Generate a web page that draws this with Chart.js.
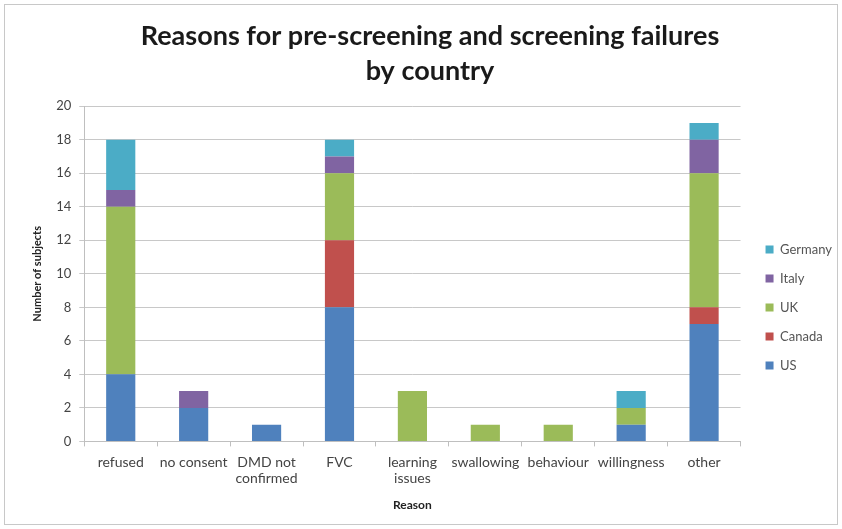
<!DOCTYPE html>
<html lang="en">
<head>
  <meta charset="UTF-8">
  <title>Reasons for pre-screening and screening failures</title>
  <script src="https://cdn.jsdelivr.net/npm/chart.js"></script>
  <style>
    body {
      margin: 0;
      background: #ffffff;
      font-family: Lato, "Open Sans", sans-serif;
    }
    .frame {
      position: absolute;
      left: 4px;
      top: 4px;
      width: 832px;
      height: 519px;
      border: 1px solid #c8c8c8;
      background: #fff;
    }
  </style>
</head>
<body>
  <div class="frame">
    <canvas id="failChart"></canvas>
  </div>

  <script>
    // categories along x
    const reasons = ['refused', 'no consent', ['DMD not', 'confirmed'], 'FVC', ['learning', 'issues'],
      'swallowing', 'behaviour', 'willingness', 'other'];

    // values per country (stacked)
    const usVals      = [4, 2, 1, 8, 0, 0, 0, 1, 7];
    const canadaVals  = [0, 0, 0, 4, 0, 0, 0, 0, 1];
    const ukVals      = [10, 0, 0, 4, 3, 1, 1, 1, 8];
    const italyVals   = [1, 1, 0, 1, 0, 0, 0, 0, 2];
    const germanyVals = [3, 0, 0, 1, 0, 0, 0, 1, 1];

    const yTicks = [0, 2, 4, 6, 8, 10, 12, 14, 16, 18, 20];

    const ds = (label, data, color) => ({
      label: label,
      data: data,
      backgroundColor: color,
      borderWidth: 0,
      barPercentage: 0.8,
      categoryPercentage: 0.5
    });

    // the legend in the original sits lower and further right than chart.js puts it
    const legendNudge = {
      id: 'legendNudge',
      afterLayout(chart, args, opts) {
        const lg = chart.legend;
        lg.left += opts.dx; lg.right += opts.dx;
        lg.top += opts.dy; lg.bottom += opts.dy;
      }
    };

    new Chart(document.getElementById('failChart'), {
      type: 'bar',
      data: {
        labels: reasons,
        datasets: [
          ds('US', usVals, '#4f81bd'),
          ds('Canada', canadaVals, '#c0504d'),
          ds('UK', ukVals, '#9bbb59'),
          ds('Italy', italyVals, '#8064a2'),
          ds('Germany', germanyVals, '#4bacc6')
        ]
      },
      plugins: [legendNudge],
      options: {
        responsive: true,
        maintainAspectRatio: false,
        animation: false,
        layout: { padding: { left: 22, right: 4, top: 8, bottom: 10 } },
        plugins: {
          legendNudge: { dx: 9, dy: 44 },
          title: {
            display: true,
            text: ['Reasons for pre-screening and screening failures', 'by country'],
            color: '#1a1a1a',
            font: { size: 27, weight: 'bold', family: 'Lato', lineHeight: 1.3 },
            padding: { top: 6, bottom: 17 }
          },
          legend: {
            position: 'right',
            reverse: true,
            labels: {
              boxWidth: 8,
              boxHeight: 8,
              padding: 16,
              color: '#555',
              font: { size: 13, family: 'Lato' }
            }
          },
          tooltip: { enabled: false }
        },
        scales: {
          x: {
            stacked: true,
            grid: { drawOnChartArea: false, color: '#bfbfbf', tickLength: 5 },
            border: { color: '#bfbfbf' },
            ticks: {
              color: '#444',
              font: { size: 14, family: 'Lato', lineHeight: 1.15 },
              padding: 8,
              maxRotation: 0,
              autoSkip: false
            },
            title: {
              display: true,
              text: 'Reason',
              color: '#222',
              font: { size: 12, weight: 'bold', family: 'Lato' },
              padding: { top: 3, bottom: 2 }
            }
          },
          y: {
            stacked: true,
            min: 0,
            max: 20,
            afterBuildTicks: axis => { axis.ticks = yTicks.map(v => ({ value: v })); },
            grid: { color: '#c8c8c8', tickLength: 5 },
            border: { color: '#bfbfbf' },
            ticks: { color: '#444', font: { size: 13, family: 'Lato' }, padding: 8 },
            title: {
              display: true,
              text: 'Number of subjects',
              color: '#222',
              font: { size: 11, weight: 'bold', family: 'Lato' },
              padding: { top: 4, bottom: 4 }
            }
          }
        }
      }
    });
  </script>
</body>
</html>
